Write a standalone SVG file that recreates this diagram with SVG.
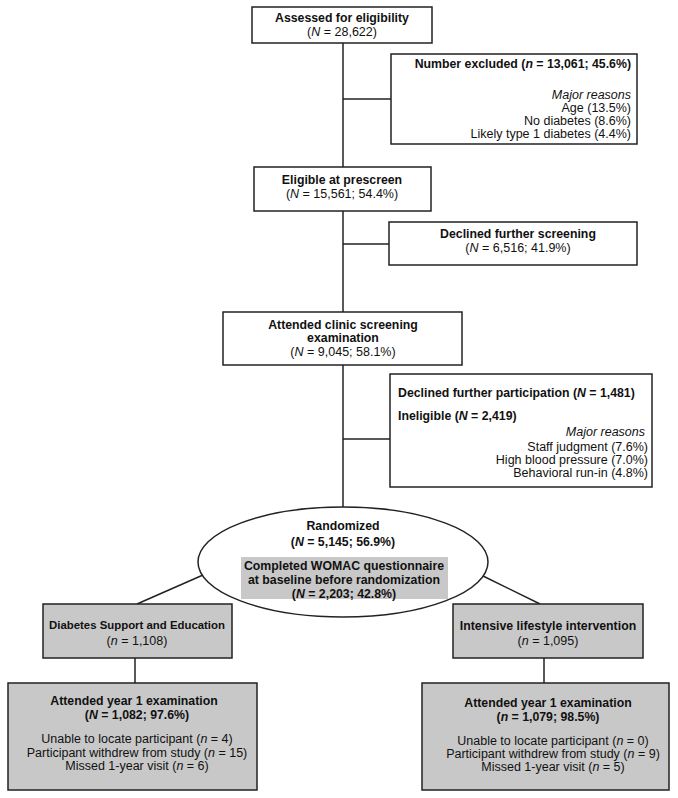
<svg xmlns="http://www.w3.org/2000/svg" width="678" height="798" viewBox="0 0 678 798">
<style>
.box{fill:#fff;stroke:#222;stroke-width:1.5}
.gbox{fill:#c8c8c8;stroke:#222;stroke-width:1.5}
.ln{stroke:#222;stroke-width:1.5;fill:none}
text{font-family:"Liberation Sans",Arial,Helvetica,sans-serif;font-size:12.5px;fill:#111}
.b{font-weight:bold;font-size:12.3px}
.c{text-anchor:middle}
.r{text-anchor:end}
.i{font-style:italic}
.s{font-size:11.4px}
</style>
<rect width="678" height="798" fill="#fff"/>
<g id="connectors">
<line class="ln" x1="343" y1="43" x2="343" y2="167"/>
<line class="ln" x1="343" y1="99" x2="391" y2="99"/>
<line class="ln" x1="343" y1="211" x2="343" y2="312"/>
<line class="ln" x1="343" y1="244" x2="389" y2="244"/>
<line class="ln" x1="343" y1="365" x2="343" y2="507"/>
<line class="ln" x1="343" y1="439" x2="390" y2="439"/>
<line class="ln" x1="203" y1="575" x2="137" y2="604"/>
<line class="ln" x1="483" y1="576" x2="540" y2="604"/>
<line class="ln" x1="135" y1="658" x2="135" y2="683"/>
<line class="ln" x1="544" y1="658" x2="544" y2="683"/>
</g>
<g id="assessed">
<rect class="box" x="252" y="7" width="180" height="36"/>
<text class="b c" x="342" y="22">Assessed for eligibility</text>
<text class="c" x="342" y="36">(<tspan class="i">N</tspan> = 28,622)</text>
</g>
<g id="excluded">
<rect class="box" x="391" y="54" width="246" height="90"/>
<text class="b r" x="631" y="68">Number excluded (<tspan class="i">n</tspan> = 13,061; 45.6%)</text>
<text class="i r" x="631" y="99">Major reasons</text>
<text class="r" x="631" y="112">Age (13.5%)</text>
<text class="r" x="631" y="125">No diabetes (8.6%)</text>
<text class="r" x="631" y="138">Likely type 1 diabetes (4.4%)</text>
</g>
<g id="eligible">
<rect class="box" x="254" y="167" width="177" height="44"/>
<text class="b c" x="342" y="184">Eligible at prescreen</text>
<text class="c" x="342" y="198">(<tspan class="i">N</tspan> = 15,561; 54.4%)</text>
</g>
<g id="declined">
<rect class="box" x="389" y="222" width="248" height="43"/>
<text class="b c" x="518" y="238">Declined further screening</text>
<text class="c" x="518" y="252">(<tspan class="i">N</tspan> = 6,516; 41.9%)</text>
</g>
<g id="attended">
<rect class="box" x="223" y="312" width="239" height="53"/>
<text class="b c" x="343" y="329">Attended clinic screening</text>
<text class="b c" x="343" y="342">examination</text>
<text class="c" x="343" y="356">(<tspan class="i">N</tspan> = 9,045; 58.1%)</text>
</g>
<g id="ineligible">
<rect class="box" x="390" y="374" width="262" height="113"/>
<text class="b" x="398" y="397">Declined further participation (<tspan class="i">N</tspan> = 1,481)</text>
<text class="b" x="398" y="420">Ineligible (<tspan class="i">N</tspan> = 2,419)</text>
<text class="i r" x="645" y="436">Major reasons</text>
<text class="r" x="648" y="451">Staff judgment (7.6%)</text>
<text class="r" x="648" y="464">High blood pressure (7.0%)</text>
<text class="r" x="648" y="477">Behavioral run-in (4.8%)</text>
</g>
<g id="randomized">
<ellipse class="box" cx="343" cy="562" rx="145" ry="55"/>
<rect x="241" y="557" width="207" height="42" fill="#c8c8c8"/>
<text class="b c" x="343" y="530">Randomized</text>
<text class="b c" x="343" y="546">(<tspan class="i">N</tspan> = 5,145; 56.9%)</text>
<text class="b c" x="344" y="570">Completed WOMAC questionnaire</text>
<text class="b c" x="344" y="584">at baseline before randomization</text>
<text class="b c" x="344" y="598">(<tspan class="i">N</tspan> = 2,203; 42.8%)</text>
</g>
<g id="dse">
<rect class="gbox" x="43" y="604" width="189" height="54"/>
<text class="b c s" x="137" y="629">Diabetes Support and Education</text>
<text class="c" x="137" y="645">(<tspan class="i">n</tspan> = 1,108)</text>
</g>
<g id="ili">
<rect class="gbox" x="453" y="604" width="190" height="54"/>
<text class="b c" x="548" y="630">Intensive lifestyle intervention</text>
<text class="c" x="548" y="645">(<tspan class="i">n</tspan> = 1,095)</text>
</g>
<g id="year1-dse">
<rect class="gbox" x="8" y="683" width="249" height="107"/>
<text class="b c" x="134" y="705">Attended year 1 examination</text>
<text class="b c" x="137" y="719">(<tspan class="i">N</tspan> = 1,082; 97.6%)</text>
<text class="c" x="137" y="743">Unable to locate participant (<tspan class="i">n</tspan> = 4)</text>
<text class="c" x="137" y="757">Participant withdrew from study (<tspan class="i">n</tspan> = 15)</text>
<text class="c" x="137" y="770">Missed 1-year visit (<tspan class="i">n</tspan> = 6)</text>
</g>
<g id="year1-ili">
<rect class="gbox" x="422" y="683" width="247" height="107"/>
<text class="b c" x="548" y="707">Attended year 1 examination</text>
<text class="b c" x="548" y="721">(<tspan class="i">n</tspan> = 1,079; 98.5%)</text>
<text class="c" x="553" y="745">Unable to locate participant (<tspan class="i">n</tspan> = 0)</text>
<text class="c" x="553" y="758">Participant withdrew from study (<tspan class="i">n</tspan> = 9)</text>
<text class="c" x="553" y="771">Missed 1-year visit (<tspan class="i">n</tspan> = 5)</text>
</g>
</svg>
